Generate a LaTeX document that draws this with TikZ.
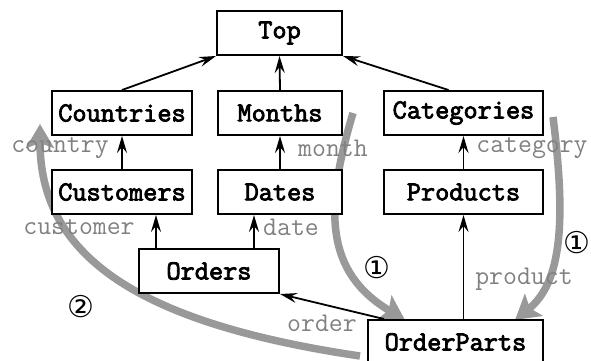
\documentclass[tikz,border=0pt]{standalone}
\usepackage{fontspec}
\newfontfamily\circfont{DejaVu Sans}
\newfontfamily\tblfont[FakeBold=3]{Latin Modern Mono}
\newfontfamily\attrfont{Latin Modern Mono}
\usetikzlibrary{arrows.meta}
\definecolor{flowgray}{gray}{0.6}
\definecolor{labgray}{gray}{0.5}
\tikzset{
  tbl/.style={draw=black, line width=2pt, fill=white, minimum height=44pt, inner sep=0pt,
    font=\fontsize{27.5}{30}\selectfont\tblfont},
  attr/.style={text=labgray, inner sep=0pt, font=\fontsize{27}{30}\selectfont\attrfont},
  fk/.style={line width=1.8pt, -{Stealth[length=17pt,width=10pt,inset=6pt]}},
  flow/.style={line width=7.5pt, draw=flowgray, -{Stealth[length=24pt,width=28pt,inset=5pt]}},
  num/.style={inner sep=0pt, font=\fontsize{30}{32}\selectfont\circfont}
}
\begin{document}
\begin{tikzpicture}[x=1pt,y=-1pt]
\useasboundingbox (0,0) rectangle (591,360);
% gray flows
\coordinate (f1s) at (353,113);
\coordinate (f1e) at (405,320);
\coordinate (f2s) at (553,117);
\coordinate (f2e) at (515,320);
\coordinate (f3s) at (360,356);
\coordinate (f3e) at (40,124);
\draw[flow] (f1s) .. controls (324,210) and (325,272) .. (f1e);
\draw[flow] (f2s) .. controls (566,220) and (562,282) .. (f2e);
\draw[flow] (f3s) .. controls (130,322) and (40,252) .. (f3e);
% tables
\node[tbl, minimum width=125pt] (top) at (279.5,33) {Top};
\node[tbl, minimum width=140pt] (countries) at (122,113) {Countries};
\node[tbl, minimum width=124pt] (months) at (280,113) {Months};
\node[tbl, minimum width=159pt] (categories) at (463.5,113) {Categories};
\node[tbl, minimum width=140pt] (customers) at (122,192) {Customers};
\node[tbl, minimum width=124pt] (dates) at (280,192) {Dates};
\node[tbl, minimum width=159pt] (products) at (463.5,192) {Products};
\node[tbl, minimum width=140pt] (orders) at (209,271) {Orders};
\node[tbl, minimum width=175pt] (orderparts) at (455.5,342) {OrderParts};
% foreign keys
\draw[fk] (countries.north) -- (top.south west);
\draw[fk] (months.north) -- (top.south);
\draw[fk] ([xshift=-15pt]categories.north) -- (top.south east);
\draw[fk] (customers.north) -- (countries.south);
\draw[fk] (dates.north) -- (months.south);
\draw[fk] (products.north) -- (categories.south);
\draw[fk] ([xshift=18pt]orders.north west) -- ([xshift=18pt]orders.north west |- customers.south);
\draw[fk] ([xshift=-26pt]orders.north east) -- ([xshift=-26pt]orders.north east |- dates.south);
\draw[fk] (products.south |- orderparts.north) -- (products.south);
\draw[fk] ([xshift=17pt]orderparts.north west) -- (orders.south east);
% labels
\node[attr] (lcountry) at (60,148) {country};
\node[attr] (lmonth) at (333,148) {month};
\node[attr] (lcategory) at (532,148) {category};
\node[attr] (lcustomer) at (79,227) {customer};
\node[attr] (ldate) at (291,227) {date};
\node[attr] (lproduct) at (524,279) {product};
\node[attr] (lorder) at (322,323) {order};
% step numbers
\node[num] (n1a) at (377,268) {①};
\node[num] (n1b) at (577,243) {①};
\node[num] (n2) at (81,307) {②};
\end{tikzpicture}
\end{document}
